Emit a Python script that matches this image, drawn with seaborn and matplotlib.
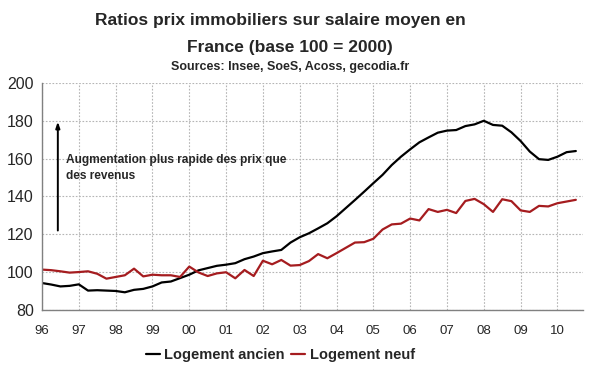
import numpy as np
import pandas as pd
import matplotlib
matplotlib.use("Agg")
import matplotlib.pyplot as plt
import seaborn as sns

# quarterly values, 1996 Q1 -> 2010 Q3
ancien = [94.2, 93.4, 92.4, 92.7, 93.5, 90.2, 90.4, 90.2, 90.0, 89.3,
          90.6, 91.1, 92.4, 94.5, 95.0, 96.8, 98.6, 100.9, 102.1, 103.3,
          103.9, 104.7, 106.8, 108.2, 110.0, 110.9, 111.7, 115.6, 118.4, 120.5,
          123.1, 125.8, 129.5, 133.8, 138.1, 142.5, 147.0, 151.4, 156.6, 161.0,
          164.9, 168.6, 171.2, 173.7, 174.8, 175.1, 177.2, 178.1, 180.0, 177.8,
          177.4, 173.9, 169.3, 163.7, 159.7, 159.3, 161.0, 163.4, 164.0]
neuf = [101.3, 101.0, 100.4, 99.7, 100.0, 100.4, 99.1, 96.5, 97.4, 98.3,
        101.8, 97.7, 98.6, 98.3, 98.3, 97.4, 102.9, 99.8, 97.9, 99.3,
        99.9, 96.7, 101.1, 97.9, 106.0, 104.1, 106.4, 103.4, 103.7, 105.8,
        109.5, 107.3, 110.0, 112.8, 115.6, 115.8, 117.6, 122.5, 125.2, 125.6,
        128.3, 127.3, 133.3, 131.8, 132.9, 131.2, 137.6, 138.7, 135.9, 131.8,
        138.5, 137.5, 132.6, 131.8, 135.0, 134.7, 136.4, 137.3, 138.2]
years = list(range(1996, 2011))
year_labels = ["96", "97", "98", "99", "00", "01", "02", "03", "04", "05",
               "06", "07", "08", "09", "10"]
series_names = ["Logement ancien", "Logement neuf"]

t = 1996 + np.arange(len(ancien)) / 4
df = pd.DataFrame({
    "t": np.concatenate([t, t]),
    "ratio": ancien + neuf,
    "serie": [series_names[0]] * len(ancien) + [series_names[1]] * len(neuf),
})

sns.set_style("white")
plt.rcParams["font.family"] = ["Liberation Sans", "DejaVu Sans"]

fig = plt.figure(figsize=(6, 3.72), dpi=100)
ax = fig.add_axes([0.07, 0.167, 0.902, 0.61])

sns.lineplot(data=df, x="t", y="ratio", hue="serie",
             palette=["#000000", "#a51c1f"], linewidth=1.6, ax=ax, legend=False)

ax.set_xlim(1996, 2010.7)
ax.set_ylim(80, 200)
ax.set_xticks(years)
ax.set_xticklabels(year_labels, fontsize=9.5)
ax.set_yticks(range(80, 201, 20))
ax.tick_params(axis="y", labelsize=11.5, length=4, color="#808080", pad=2)
ax.tick_params(axis="x", length=4, color="#808080", pad=7)
ax.set_xlabel("")
ax.set_ylabel("")
ax.grid(True, linestyle=(0, (1.5, 1.5)), color="#b5b5b5", linewidth=0.8)
for side in ["top", "right"]:
    ax.spines[side].set_visible(False)
for side in ["left", "bottom"]:
    ax.spines[side].set_color("#808080")
    ax.spines[side].set_linewidth(1)

# arrow + comment
ax.annotate("", xy=(1996.43, 181), xytext=(1996.43, 120.5),
            arrowprops=dict(arrowstyle="-|>,head_length=0.35,head_width=0.12",
                            color="black", lw=1.4))
ax.text(1996.65, 162.5, "Augmentation plus rapide des prix que\ndes revenus",
        fontsize=8.6, fontweight="bold", va="top", ha="left", linespacing=1.5)

fig.text(0.467, 0.944, "Ratios prix immobiliers sur salaire moyen en",
         ha="center", va="center", fontsize=12.5, fontweight="bold")
fig.text(0.483, 0.872, "France (base 100 = 2000)",
         ha="center", va="center", fontsize=12.5, fontweight="bold")
fig.text(0.483, 0.82, "Sources: Insee, SoeS, Acoss, gecodia.fr",
         ha="center", va="center", fontsize=9, fontweight="bold")

handles = [plt.Line2D([], [], color="#000000", lw=1.6),
           plt.Line2D([], [], color="#a51c1f", lw=1.6)]
fig.legend(handles, series_names, loc="center", bbox_to_anchor=(0.467, 0.046),
           ncol=2, frameon=False, handlelength=1.0, handletextpad=0.3,
           columnspacing=0.4, prop={"weight": "bold", "size": 10.5})

fig.savefig("out.png", dpi=100)
